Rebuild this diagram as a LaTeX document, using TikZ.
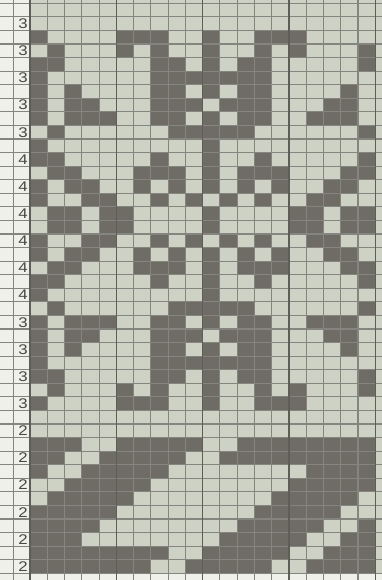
\documentclass[tikz,border=0pt]{standalone}
\usepackage{fontspec}
\setmainfont{Liberation Sans}
\definecolor{lightc}{HTML}{CDD2C5}
\definecolor{darkc}{HTML}{6E6C65}
\definecolor{gridc}{HTML}{85857F}
\definecolor{heavyc}{HTML}{5E5E58}
\definecolor{paper}{HTML}{EEF0E9}
\definecolor{labelc}{HTML}{484844}
\tikzset{
  cell/.style={fill=darkc},
  gridline/.style={draw=gridc,line width=1.1pt},
  heavyline/.style={draw=heavyc,line width=1.5pt},
  rowlabel/.style={anchor=east,inner sep=0pt,text=labelc,font=\fontsize{14}{14}\selectfont}
}
\newcommand{\cw}{17.265}
\newcommand{\rh}{13.571}
\begin{document}
\begin{tikzpicture}[x=1pt,y=1pt]
\useasboundingbox (0,0) rectangle (382,-580);
\fill[paper] (0,0) rectangle (382,-580);
\fill[lightc] (30,0) rectangle (382,-573.3);
\foreach \r/\cl in {
2/{0,5,6,7,10,13,14,15},
3/{1,5,7,10,13,15,19},
4/{0,1,7,8,10,12,13,19},
5/{0,7,8,9,10,11,12,13},
6/{0,2,7,8,10,12,13,18},
7/{0,2,3,7,8,9,11,12,13,17,18},
8/{0,2,3,4,7,8,10,12,13,16,17,18},
9/{1,8,9,10,11,12,19},
10/{0,10},
11/{0,1,7,10,13,19},
12/{1,2,6,7,8,10,12,13,14,18,19},
13/{0,2,3,6,8,10,12,14,17,18},
14/{0,3,4,7,9,11,13,16,17},
15/{1,2,4,5,10,15,16,18,19},
16/{1,2,4,5,10,15,16,18,19},
17/{0,3,4,7,9,11,13,16,17},
18/{0,2,3,6,8,10,12,14,17,18},
19/{1,2,6,7,8,10,12,13,14,18,19},
20/{0,1,7,10,13,19},
21/{0,10},
22/{1,8,9,10,11,12,19},
23/{0,2,3,4,7,8,10,12,13,16,17,18},
24/{0,2,3,7,8,9,11,12,13,17,18},
25/{0,2,7,8,10,12,13,18},
26/{0,7,8,9,10,11,12,13},
27/{0,1,7,8,10,12,13,19},
28/{1,5,7,10,13,15,19},
29/{0,5,6,7,10,13,14,15},
32/{0,1,2,5,6,7,8,9,12,13,14,15,16,17,18,19},
33/{0,1,4,5,6,7,8,11,12,13,14,15,16,17,18,19},
34/{0,3,4,5,6,7,16,17,18,19},
35/{2,3,4,5,6,15,16,17,18,19},
36/{1,2,3,4,5,14,15,16,17,18},
37/{0,1,2,3,4,13,14,15,16,17},
38/{0,1,2,3,12,13,14,15,16,19},
39/{0,1,2,11,12,13,14,15,18,19},
40/{0,1,2,3,4,5,6,7,10,11,12,13,14,17,18,19},
41/{0,1,2,3,4,5,6,9,10,11,12,13,16,17,18,19}}{
  \foreach \c in \cl {
    \fill[cell] ({30+\cw*\c},{-3.3-\rh*\r}) rectangle +(\cw,-\rh);
  }
}
% horizontal grid lines
\foreach \r in {0,...,42}{
  \draw[gridline] (0,{-3.3-\rh*\r}) -- (382,{-3.3-\rh*\r});
}
% vertical grid lines
\draw[gridline] (13.3,0) -- (13.3,-580);
\foreach \c in {1,2,3,4,6,7,8,9,11,12,13,14,16,17,18,19}{
  \draw[gridline] ({30+\cw*\c},0) -- ({30+\cw*\c},-580);
}
\foreach \c in {0,5,10,15,20}{
  \draw[heavyline] ({30+\cw*\c},0) -- ({30+\cw*\c},-580);
}
% row labels
\foreach \r/\t in {1/3,3/3,5/3,7/3,9/3,11/4,13/4,15/4,17/4,19/4,21/4,23/3,25/3,27/3,29/3,31/2,33/2,35/2,37/2,39/2,41/2}{
  \node[rowlabel] (lab\r) at (28,{-3.3-\rh*\r-\rh/2}) {\scalebox{1.2}[1]{\t}};
}
\end{tikzpicture}
\end{document}
